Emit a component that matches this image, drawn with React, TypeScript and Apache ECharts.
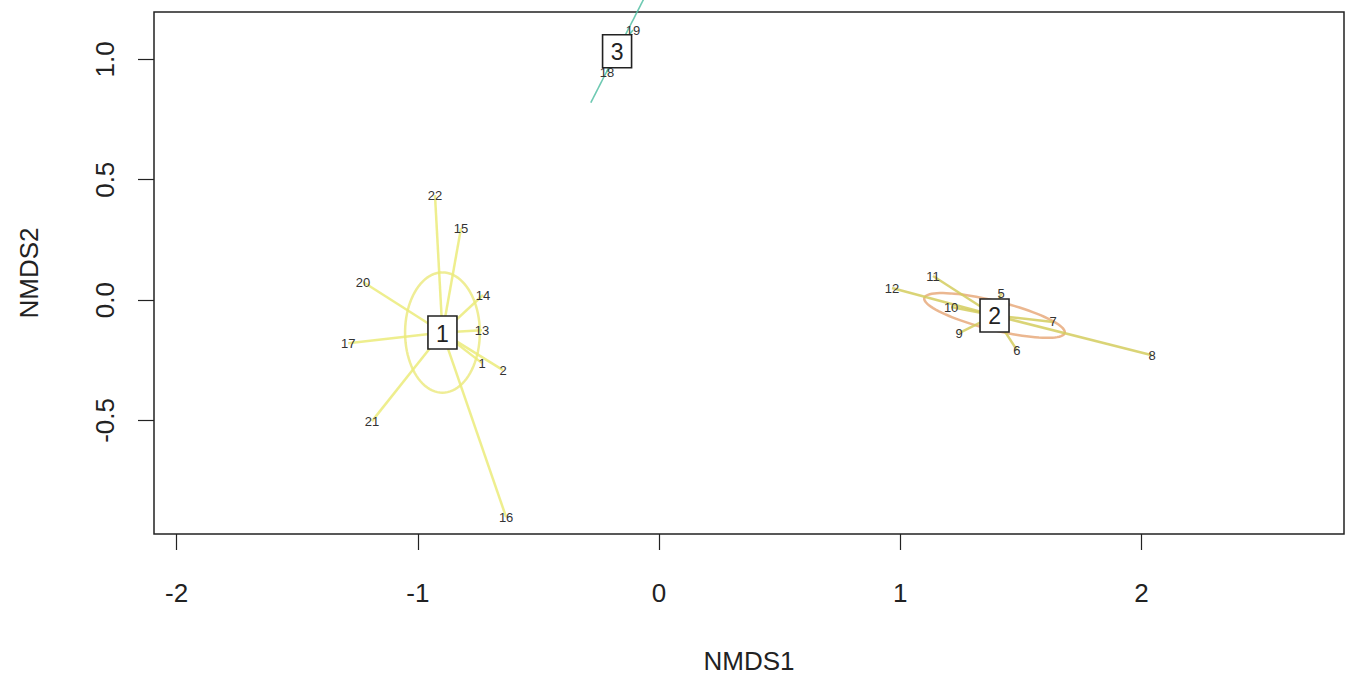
import React, { useEffect, useRef } from "react";
import * as echarts from "echarts";

// ---- data ----
const siteNames = ["22", "15", "20", "14", "13", "17", "1", "2", "21", "16", "12", "11", "5", "10", "9", "7", "6", "8", "18", "19"];
const siteX = [-0.929, -0.821, -1.227, -0.730, -0.734, -1.289, -0.734, -0.647, -1.190, -0.634, 0.966, 1.136, 1.418, 1.211, 1.244, 1.634, 1.484, 2.044, -0.216, -0.108];
const siteY = [0.436, 0.299, 0.075, 0.021, -0.125, -0.179, -0.262, -0.291, -0.503, -0.902, 0.050, 0.100, 0.029, -0.029, -0.137, -0.091, -0.208, -0.229, 0.947, 1.122];
const siteGroup = [0, 0, 0, 0, 0, 0, 0, 0, 0, 0, 1, 1, 1, 1, 1, 1, 1, 1, 2, 2];

const groupNames = ["1", "2", "3"];
const centroidX = [-0.898, 1.391, -0.174];
const centroidY = [-0.135, -0.064, 1.034];

// ellipse parameters (semi-axes in data units, angle in degrees)
const ellipseA = [0.25, 0.30, 0.24];
const ellipseB = [0.155, 0.06, 0.0];
const ellipseAngle = [90, -14, 63];

const xTicks = [-2, -1, 0, 1, 2];
const yTicks = [-0.5, 0, 0.5, 1.0];

const spiderColors = ["#ebeb7a", "#d4cc5e", "#55bfa4"];
const ellipseColors = ["#ecea84", "#e8aa7c", "#55bfa4"];

const FONT = "'Liberation Sans', Arial, Helvetica, sans-serif";

export default function App() {
  const ref = useRef<HTMLDivElement>(null);

  useEffect(() => {
    if (!ref.current) return;
    const chart = echarts.init(ref.current, undefined, { renderer: "svg" });

    const spiderData = siteNames.map((_, i) => [
      siteX[i],
      siteY[i],
      centroidX[siteGroup[i]],
      centroidY[siteGroup[i]],
      siteGroup[i],
    ]);
    const ellipseData = groupNames.map((_, g) => [
      centroidX[g],
      centroidY[g],
      ellipseA[g],
      ellipseB[g],
      ellipseAngle[g],
      g,
    ]);
    const siteData = siteNames.map((n, i) => [siteX[i], siteY[i], i]);
    const centroidData = groupNames.map((n, g) => [centroidX[g], centroidY[g], g]);

    const option: any = {
      animation: false,
      backgroundColor: "#ffffff",
      grid: {
        left: 154,
        top: 12,
        right: 3,
        bottom: 144,
        show: true,
        borderColor: "#222",
        borderWidth: 1.5,
        backgroundColor: "transparent",
      },
      xAxis: {
        type: "value",
        min: -2.094,
        max: 2.84,
        name: "NMDS1",
        nameLocation: "middle",
        nameGap: 114,
        nameTextStyle: { fontSize: 26, color: "#222", fontFamily: FONT },
        axisLine: { show: false, onZero: false },
        splitLine: { show: false },
        axisTick: {
          show: true,
          length: 16,
          customValues: xTicks,
          lineStyle: { color: "#222", width: 1.2 },
        },
        axisLabel: {
          customValues: xTicks,
          margin: 46,
          fontSize: 26,
          color: "#222",
          fontFamily: FONT,
          formatter: (v: number) => String(v),
        },
      },
      yAxis: {
        type: "value",
        min: -0.972,
        max: 1.197,
        name: "NMDS2",
        nameLocation: "middle",
        nameGap: 112,
        nameRotate: 90,
        nameTextStyle: { fontSize: 26, color: "#222", fontFamily: FONT },
        axisLine: { show: false, onZero: false },
        splitLine: { show: false },
        axisTick: {
          show: true,
          length: 16,
          customValues: yTicks,
          lineStyle: { color: "#222", width: 1.2 },
        },
        axisLabel: {
          customValues: yTicks,
          rotate: 90,
          margin: 36,
          fontSize: 26,
          color: "#222",
          fontFamily: FONT,
          formatter: (v: number) => v.toFixed(1),
        },
      },
      series: [
        {
          type: "custom",
          name: "ellipses",
          data: ellipseData,
          silent: true,
          clip: false,
          z: 2,
          renderItem: (params: any, api: any) => {
            const cx = api.value(0);
            const cy = api.value(1);
            const a = api.value(2);
            const b = api.value(3);
            const ang = (api.value(4) * Math.PI) / 180;
            const g = api.value(5);
            const pts: number[][] = [];
            const n = 90;
            for (let k = 0; k <= n; k++) {
              const t = (2 * Math.PI * k) / n;
              const ex = a * Math.cos(t);
              const ey = b * Math.sin(t);
              const x = cx + ex * Math.cos(ang) - ey * Math.sin(ang);
              const y = cy + ex * Math.sin(ang) + ey * Math.cos(ang);
              pts.push(api.coord([x, y]));
            }
            return {
              type: "polyline",
              shape: { points: pts },
              style: {
                stroke: ellipseColors[g],
                lineWidth: g === 2 ? 1.6 : 2.5,
                fill: "none",
                opacity: 0.85,
              },
            };
          },
        },
        {
          type: "custom",
          name: "spiders",
          data: spiderData,
          silent: true,
          clip: false,
          z: 3,
          renderItem: (params: any, api: any) => {
            const p = api.coord([api.value(0), api.value(1)]);
            const c = api.coord([api.value(2), api.value(3)]);
            const g = api.value(4);
            return {
              type: "line",
              shape: { x1: c[0], y1: c[1], x2: p[0], y2: p[1] },
              style: {
                stroke: spiderColors[g],
                lineWidth: g === 2 ? 1.6 : 2.5,
                opacity: 0.85,
              },
            };
          },
        },
        {
          type: "custom",
          name: "sites",
          data: siteData,
          silent: true,
          clip: false,
          z: 4,
          renderItem: (params: any, api: any) => {
            const p = api.coord([api.value(0), api.value(1)]);
            const i = api.value(2);
            return {
              type: "text",
              x: p[0],
              y: p[1],
              style: {
                text: siteNames[i],
                fontSize: 13,
                fontFamily: FONT,
                fill: "#333",
                align: "center",
                verticalAlign: "middle",
              },
            };
          },
        },
        {
          type: "custom",
          name: "centroids",
          data: centroidData,
          silent: true,
          clip: false,
          z: 5,
          renderItem: (params: any, api: any) => {
            const p = api.coord([api.value(0), api.value(1)]);
            const g = api.value(2);
            const w = 29;
            const h = 33;
            return {
              type: "group",
              children: [
                {
                  type: "rect",
                  shape: { x: p[0] - w / 2, y: p[1] - h / 2, width: w, height: h },
                  style: { fill: "#ffffff", stroke: "#222", lineWidth: 1.6 },
                },
                {
                  type: "text",
                  x: p[0],
                  y: p[1] + 1,
                  style: {
                    text: groupNames[g],
                    fontSize: 23,
                    fontFamily: FONT,
                    fill: "#222",
                    align: "center",
                    verticalAlign: "middle",
                  },
                },
              ],
            };
          },
        },
      ],
    };

    chart.setOption(option);
    return () => {
      chart.dispose();
    };
  }, []);

  return (
    <div
      ref={ref}
      style={{ position: "absolute", left: 0, top: 0, width: 1347, height: 679, background: "#fff" }}
    />
  );
}
